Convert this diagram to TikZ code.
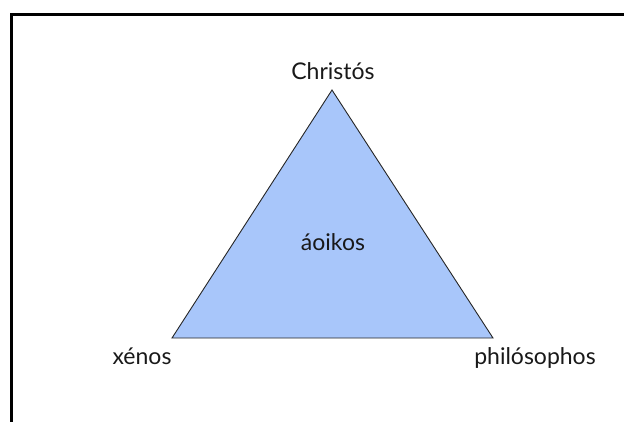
\documentclass[tikz,border=0pt]{standalone}
\usepackage{fontspec}
\setmainfont{Lato}
\begin{document}
\begin{tikzpicture}[x=1pt,y=-1pt,
  lbl/.style={font=\fontsize{23}{26}\selectfont, text=black!90, inner sep=0pt, anchor=base},
  tri/.style={draw=black!85, line width=0.9pt, fill={rgb,255:red,168;green,198;blue,250}, line join=miter},
  frame/.style={draw=black, line width=2.6pt}]
\useasboundingbox (0,0) rectangle (624,421);
\clip (0,0) rectangle (624,421);
\draw[frame] (11.3,440) -- (11.3,14.3) -- (640,14.3);
\coordinate (top) at (332,90);
\coordinate (bl) at (172,338);
\coordinate (br) at (493,338);
\path[tri] (top) -- (br) -- (bl) -- cycle;
\node[lbl] (christos) at (333,79) {Christós};
\node[lbl] (aoikos) at (333,250) {áoikos};
\node[lbl] (xenos) at (142,364) {xénos};
\node[lbl] (philo) at (535,364) {philósophos};
\end{tikzpicture}
\end{document}
